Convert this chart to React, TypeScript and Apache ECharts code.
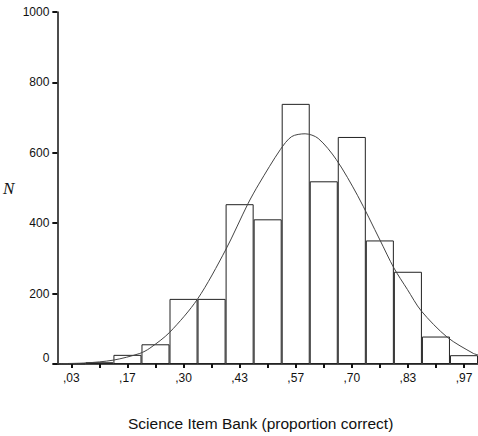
import React, { useEffect, useRef } from "react";
import * as echarts from "echarts";

const categories = [",03", ",10", ",17", ",23", ",30", ",37", ",43", ",50", ",57", ",63", ",70", ",77", ",83", ",90", ",97"];
const counts = [2, 5, 26, 56, 185, 185, 454, 411, 739, 519, 645, 351, 262, 78, 25];
const curveX = [0, 0.067, 0.133, 0.196, 0.22, 0.267, 0.333, 0.4, 0.453, 0.479, 0.53, 0.557, 0.589, 0.62, 0.663, 0.714, 0.767, 0.8, 0.832, 0.865, 0.927, 0.989, 1.0];
const curveY = [1, 3, 11, 30, 45, 90, 184, 324, 455, 511, 609, 646, 654, 641, 581, 478, 352, 273, 212, 151, 76, 30, 26];
const yTicks = [0, 200, 400, 600, 800, 1000];

export default function App() {
  const ref = useRef<HTMLDivElement>(null);
  useEffect(() => {
    if (!ref.current) return;
    const chart = echarts.init(ref.current, null, { renderer: "svg" });
    const font = "Arial, 'Liberation Sans', sans-serif";
    chart.setOption({
      animation: false,
      backgroundColor: "#ffffff",
      grid: { left: 56.6, top: 12, width: 425, height: 357, containLabel: false },
      xAxis: [
        {
          type: "category",
          data: categories,
          boundaryGap: true,
          name: "Science Item Bank (proportion correct)",
          nameLocation: "middle",
          nameGap: 51,
          nameTextStyle: { fontFamily: font, fontSize: 15.5, color: "#111", padding: [0, 14, 0, 0] },
          axisLine: { show: true, lineStyle: { color: "#111", width: 1.5 } },
          axisTick: { show: true, interval: 0, alignWithLabel: true, length: 4, lineStyle: { color: "#111", width: 2 } },
          axisLabel: { interval: 1, margin: 8, fontFamily: font, fontSize: 12, color: "#111" },
          splitLine: { show: false },
        },
        { type: "value", min: 0, max: 1, show: false },
      ],
      yAxis: {
        type: "value",
        min: yTicks[0],
        max: yTicks[yTicks.length - 1],
        interval: 200,
        name: "N",
        nameLocation: "middle",
        nameRotate: 0,
        nameGap: 43,
        nameTextStyle: { fontFamily: "'Liberation Serif', 'Times New Roman', serif", fontStyle: "italic", fontSize: 17, color: "#111" },
        axisLine: { show: true, lineStyle: { color: "#111", width: 1.5 } },
        axisTick: { show: true, length: 5, lineStyle: { color: "#111", width: 2 } },
        axisLabel: {
          margin: 8,
          fontFamily: font,
          fontSize: 12,
          color: "#111",
          formatter: (v: number) => (v === 0 ? "{z|0}" : String(v)),
          rich: { z: { fontFamily: font, fontSize: 12, color: "#111", padding: [0, 0, 12, 0] } },
        },
        splitLine: { show: false },
      },
      series: [
        {
          type: "bar",
          data: counts,
          barCategoryGap: "0%",
          itemStyle: { color: "#ffffff", borderColor: "#222", borderWidth: 1 },
          silent: true,
        },
        {
          type: "line",
          xAxisIndex: 1,
          data: curveX.map((x, i) => [x, curveY[i]]),
          smooth: 0.3,
          showSymbol: false,
          lineStyle: { color: "#444", width: 1 },
          silent: true,
        },
      ],
    });
    return () => chart.dispose();
  }, []);
  return <div ref={ref} style={{ position: "absolute", left: 0, top: 0, width: 478, height: 436 }} />;
}
